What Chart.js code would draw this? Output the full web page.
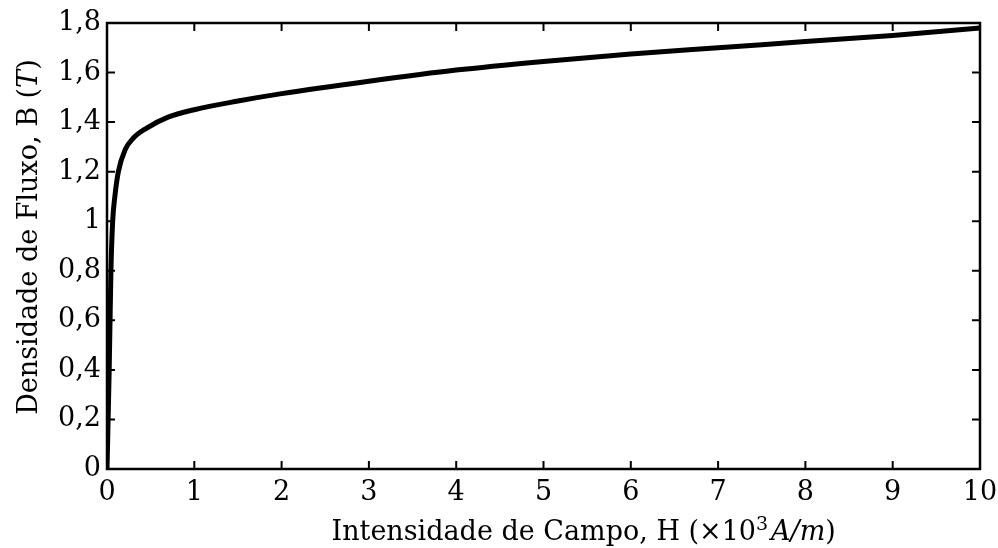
<!DOCTYPE html>
<html>
<head>
<meta charset="utf-8">
<script src="https://cdn.jsdelivr.net/npm/chart.js@4.4.1/dist/chart.umd.min.js"></script>
<style>
  html, body { margin: 0; padding: 0; background: #fff; }
  #wrap { width: 998px; height: 548px; }
</style>
</head>
<body>
<div id="wrap"><canvas id="myChart"></canvas></div>
<script>
// campo H (x10^3 A/m) e densidade de fluxo B (T)
const fieldH = [0, 0.025, 0.045, 0.065, 0.09, 0.13, 0.21, 0.3, 0.45, 0.7, 1, 1.5, 2, 3, 4, 5, 6, 7, 8, 9, 10];
const fluxB = [0, 0.4, 0.8, 1.0, 1.1, 1.2, 1.29, 1.335, 1.375, 1.42, 1.45, 1.485, 1.515, 1.565, 1.61, 1.645, 1.675, 1.70, 1.725, 1.75, 1.78];

const xTicks = [0, 1, 2, 3, 4, 5, 6, 7, 8, 9, 10];
const yTicks = [0, 0.2, 0.4, 0.6, 0.8, 1, 1.2, 1.4, 1.6, 1.8];

// titulos com partes em italico (como no LaTeX)
const xTitleParts = [
    { text: "Intensidade de Campo, H (×10", style: "normal" },
    { text: "3", style: "sup" },
    { text: "A/m", style: "italic" },
    { text: ")", style: "normal" },
];
const yTitleParts = [
    { text: "Densidade de Fluxo, B (", style: "normal" },
    { text: "T", style: "italic" },
    { text: ")", style: "normal" },
];

const serif = "'DejaVu Serif', 'Liberation Serif', serif";
const fontSize = 27;

const ctx = document.getElementById("myChart");

function partFont(style) {
    if (style === "italic") return "italic " + fontSize + "px " + serif;
    if (style === "sup") return Math.round(fontSize * 0.7) + "px " + serif;
    return fontSize + "px " + serif;
}

function drawRich(c, parts, cx, cy, angle) {
    let total = 0;
    const widths = parts.map(function (p) {
        c.font = partFont(p.style);
        const w = c.measureText(p.text).width + (p.style === "sup" ? 3 : 0);
        total += w;
        return w;
    });
    c.save();
    c.translate(cx, cy);
    c.rotate(angle);
    c.fillStyle = "#000";
    c.textBaseline = "alphabetic";
    c.textAlign = "left";
    let x = -total / 2;
    parts.forEach(function (p, i) {
        c.font = partFont(p.style);
        c.fillText(p.text, x, p.style === "sup" ? -10 : 0);
        x += widths[i];
    });
    c.restore();
}

// caixa completa, ticks para dentro e titulos dos eixos
const frameTicks = {
    id: "frameTicks",
    afterDraw(chart) {
        const c = chart.ctx;
        const a = chart.chartArea;
        const xs = chart.scales.x;
        const ys = chart.scales.y;
        const len = 8;
        c.save();
        c.strokeStyle = "#000";
        c.lineWidth = 2.5;
        c.strokeRect(a.left, a.top, a.right - a.left, a.bottom - a.top);
        c.lineWidth = 2;
        c.beginPath();
        xTicks.forEach(function (v) {
            const px = xs.getPixelForValue(v);
            c.moveTo(px, a.bottom);
            c.lineTo(px, a.bottom - len);
            c.moveTo(px, a.top);
            c.lineTo(px, a.top + len);
        });
        yTicks.forEach(function (v) {
            const py = ys.getPixelForValue(v);
            c.moveTo(a.left, py);
            c.lineTo(a.left + len, py);
            c.moveTo(a.right, py);
            c.lineTo(a.right - len, py);
        });
        c.stroke();
        c.restore();

        drawRich(c, xTitleParts, a.left + (a.right - a.left) * 0.546, 540, 0);
        drawRich(c, yTitleParts, 37, a.top + (a.bottom - a.top) * 0.48, -Math.PI / 2);
    },
};

const chart = new Chart(ctx, {
    type: "line",
    data: {
        datasets: [
            {
                label: "B-H",
                data: fieldH.map(function (h, i) {
                    return { x: h, y: fluxB[i] };
                }),
                borderColor: "#000",
                borderWidth: 5,
                pointRadius: 0,
                cubicInterpolationMode: "monotone",
                fill: false,
            },
        ],
    },
    options: {
        animation: false,
        responsive: true,
        maintainAspectRatio: false,
        layout: {
            padding: { top: 23, right: 18, left: 0, bottom: 0 },
        },
        scales: {
            x: {
                type: "linear",
                min: 0,
                max: 10,
                afterBuildTicks: function (scale) {
                    scale.ticks = xTicks.map(function (v) { return { value: v }; });
                },
                grid: { display: false, drawTicks: false },
                border: { display: false },
                ticks: {
                    color: "#000",
                    padding: 8,
                    maxRotation: 0,
                    font: { family: serif, size: fontSize },
                    callback: function (v) { return String(v); },
                },
                title: { display: false },
                afterFit: function (scale) {
                    scale.height = 79;
                    scale.paddingLeft = 0;
                    scale.paddingRight = 0;
                },
            },
            y: {
                type: "linear",
                min: 0,
                max: 1.8,
                afterBuildTicks: function (scale) {
                    scale.ticks = yTicks.map(function (v) { return { value: v }; });
                },
                grid: { display: false, drawTicks: false },
                border: { display: false },
                ticks: {
                    color: "#000",
                    padding: 6,
                    font: { family: serif, size: fontSize },
                    callback: function (v) {
                        return String(+Number(v).toFixed(1)).replace(".", ",");
                    },
                },
                title: { display: false },
                afterFit: function (scale) {
                    scale.width = 107;
                    scale.paddingTop = 0;
                    scale.paddingBottom = 0;
                },
            },
        },
        plugins: {
            legend: { display: false },
            tooltip: { enabled: false },
        },
    },
    plugins: [frameTicks],
});
</script>
</body>
</html>
